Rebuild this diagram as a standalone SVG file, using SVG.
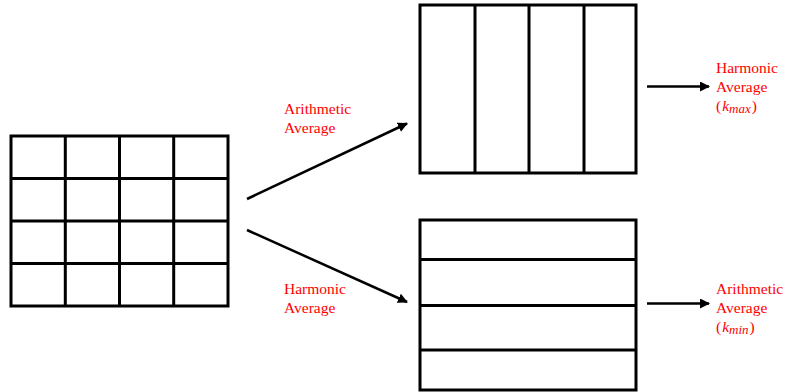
<svg xmlns="http://www.w3.org/2000/svg" width="785" height="392" viewBox="0 0 785 392">
  <style>
    .box { fill: #fff; stroke: #000; stroke-width: 3; }
    .div { stroke: #000; stroke-width: 3; fill: none; }
    .conn { stroke: #000; stroke-width: 2.5; fill: none; marker-end: url(#head); }
    .lbl { font-family: "Liberation Serif", "Times New Roman", serif; font-size: 15.5px; fill: #ff0000; }
    .it { font-style: italic; }
    .sub { font-style: italic; font-size: 13px; }
  </style>
  <defs>
    <marker id="head" viewBox="0 0 10 10" refX="9" refY="5" markerWidth="4" markerHeight="4" orient="auto" markerUnits="strokeWidth">
      <path d="M0,0 L10,5 L0,10 Z" fill="#000"/>
    </marker>
  </defs>

  <!-- fine 4x4 grid -->
  <g id="grid">
    <rect class="box" x="11" y="136" width="217" height="170"/>
    <path class="div" d="M65.3,136 V306 M119.5,136 V306 M173.7,136 V306 M11,178.5 H228 M11,221 H228 M11,263.5 H228"/>
  </g>

  <!-- vertical layers -->
  <g id="columns">
    <rect class="box" x="420" y="5" width="216" height="168"/>
    <path class="div" d="M475,5 V173 M529,5 V173 M584,5 V173"/>
  </g>

  <!-- horizontal layers -->
  <g id="rows">
    <rect class="box" x="420" y="220" width="216" height="170"/>
    <path class="div" d="M420,259.5 H636 M420,305.5 H636 M420,350 H636"/>
  </g>

  <g id="connectors">
    <line class="conn" x1="247" y1="199" x2="407" y2="123.5"/>
    <line class="conn" x1="247" y1="230" x2="407" y2="302"/>
    <line class="conn" x1="647" y1="86.5" x2="709" y2="86.5"/>
    <line class="conn" x1="647" y1="303.5" x2="709" y2="303.5"/>
  </g>

  <g id="labels">
    <text class="lbl" x="284" y="114">Arithmetic</text>
    <text class="lbl" x="284" y="133">Average</text>
    <text class="lbl" x="284" y="294">Harmonic</text>
    <text class="lbl" x="284" y="313">Average</text>

    <text class="lbl" x="716" y="73">Harmonic</text>
    <text class="lbl" x="716" y="92">Average</text>
    <text class="lbl" x="716" y="111">(<tspan class="it" dx="1">k</tspan><tspan class="sub" dy="2">max</tspan><tspan dy="-2" dx="1">)</tspan></text>

    <text class="lbl" x="716" y="294">Arithmetic</text>
    <text class="lbl" x="716" y="313">Average</text>
    <text class="lbl" x="716" y="332">(<tspan class="it" dx="1">k</tspan><tspan class="sub" dy="2">min</tspan><tspan dy="-2" dx="1">)</tspan></text>
  </g>
</svg>
